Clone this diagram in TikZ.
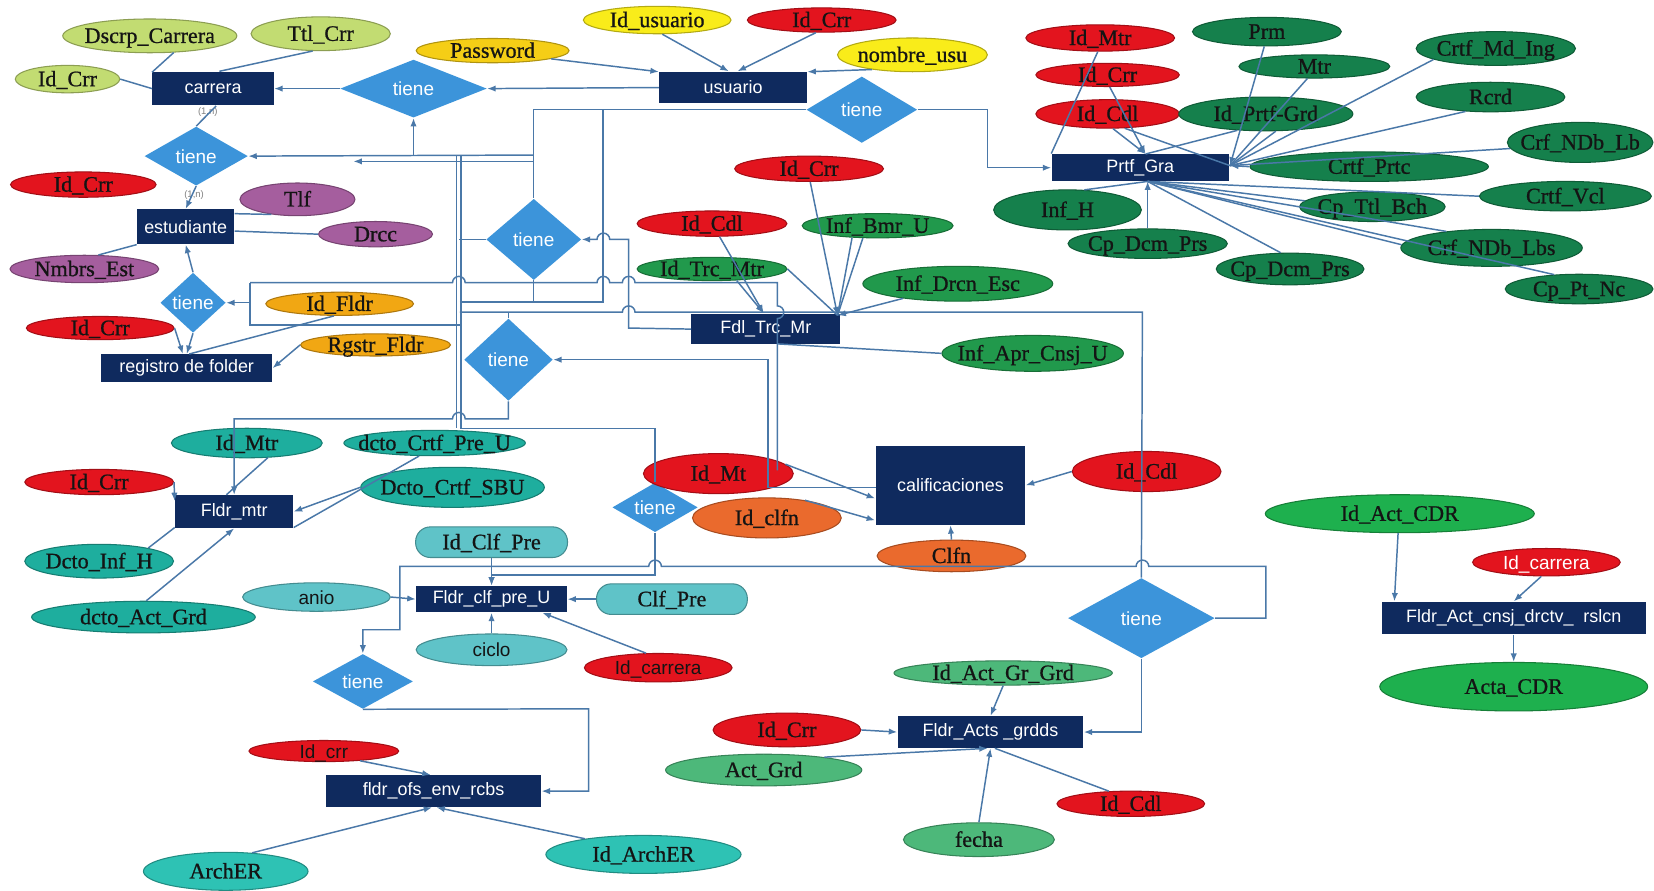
\documentclass[tikz,border=0pt]{standalone}
\usepackage{fontspec}
\setmainfont{Liberation Serif}
\setsansfont{Liberation Sans}
\newfontfamily\attserif{Liberation Serif}[FakeBold=0.8]
\usetikzlibrary{shapes.geometric,arrows.meta}
\definecolor{entc}{HTML}{0F2A5E}
\definecolor{relb}{HTML}{3C94DA}
\definecolor{lnc}{HTML}{4A78A8}
\definecolor{lgr}{HTML}{C2DC72}
\definecolor{yel}{HTML}{F9EC1A}
\definecolor{gld}{HTML}{F5CE16}
\definecolor{cred}{HTML}{E3141E}
\definecolor{dgr}{HTML}{15804C}
\definecolor{mgr}{HTML}{21994C}
\definecolor{pur}{HTML}{A55E9E}
\definecolor{org}{HTML}{F1A713}
\definecolor{teala}{HTML}{1EAE9E}
\definecolor{tealb}{HTML}{2EC2B4}
\definecolor{ltl}{HTML}{5FC3C8}
\definecolor{orr}{HTML}{EA6A2D}
\definecolor{gmd}{HTML}{4DB87A}
\definecolor{bgr}{HTML}{1EB04E}
\newcommand{\ct}[1]{\makebox[0pt]{\raisebox{-0.7ex}[0pt][0pt]{#1}}}
\newcommand{\attfont}{\attserif\fontsize{10.5}{12}\selectfont}
\tikzset{
  sz/.style 2 args={minimum width=#1*0.5pt, minimum height=#2*0.5pt},
  ent/.style={rectangle, fill=entc, text=white, inner sep=0pt, font=\sffamily\fontsize{8.5}{10}\selectfont},
  rel/.style={diamond, fill=relb, text=white, inner sep=0pt, font=\sffamily\fontsize{9}{10}\selectfont},
  att/.style={ellipse, fill=#1, draw=#1!72!black, line width=0.5pt, inner sep=0pt, text=black!92, font=\attfont},
  attr/.style={rectangle, rounded corners=7pt, fill=#1, draw=#1!72!black, line width=0.5pt, inner sep=0pt, text=black!92, font=\attfont},
  sansatt/.style={font=\sffamily\fontsize{9}{10}\selectfont},
  ln/.style={draw=lnc, line width=0.7pt},
  arr/.style={-{Latex[length=4pt,width=3pt]}},
  nlab/.style={text=gray, font=\sffamily\fontsize{4.5}{5}\selectfont, inner sep=0pt}
}
\begin{document}
\begin{tikzpicture}[x=0.5pt,y=-0.5pt]
\path[use as bounding box, fill=white] (0,0) rectangle (1568,844);

% ---------- entities ----------
\node[ent, sz={115}{32}] (carrera) at (202,84) {carrera};
\node[ent, sz={140}{30}] (usuario) at (695,83) {usuario};
\node[ent, sz={168}{26}] (prtf) at (1081,159) {Prtf\_Gra};
\node[ent, sz={92}{33}] (estudiante) at (176,215) {estudiante};
\node[ent, sz={162}{26}] (registro) at (177,349) {registro de folder};
\node[ent, sz={141}{29}] (fdl) at (726,312) {Fdl\_Trc\_Mr};
\node[ent, sz={142}{75}] (calif) at (901,460) {calificaciones};
\node[ent, sz={112}{31}] (fldrmtr) at (222,485) {Fldr\_mtr};
\node[ent, sz={143}{25}] (fldrclf) at (466,568) {Fldr\_clf\_pre\_U};
\node[ent, sz={204}{30}] (fldrofs) at (411,750) {fldr\_ofs\_env\_rcbs};
\node[ent, sz={176}{30}] (fldracts) at (939,694) {Fldr\_Acts \_grdds};
\node[ent, sz={250}{31}] (fldract) at (1435,586) {Fldr\_Act\_cnsj\_drctv\_\ \ rslcn};

% ---------- relationships ----------
\node[rel, sz={139}{55}] (tA) at (392,84) {\ct{tiene}};
\node[rel, sz={105}{63}] (tB) at (817,104) {\ct{tiene}};
\node[rel, sz={98}{56}] (tC) at (186,148) {\ct{tiene}};
\node[rel, sz={62}{57}] (tD) at (183,287) {\ct{tiene}};
\node[rel, sz={90}{77}] (tE) at (506,227) {\ct{tiene}};
\node[rel, sz={84}{78}] (tF) at (482,341) {\ct{tiene}};
\node[rel, sz={81}{47}] (tG) at (621,481) {\ct{tiene}};
\node[rel, sz={95}{52}] (tH) at (344,646) {\ct{tiene}};
\node[rel, sz={139}{76}] (tI) at (1082,586) {\ct{tiene}};

% ---------- attributes ----------
\node[att=lgr, sz={165}{32}] (dscrp) at (142,34) {\ct{Dscrp\_Carrera}};
\node[att=lgr, sz={132}{32}] (ttl) at (304,32) {\ct{Ttl\_Crr}};
\node[att=lgr, sz={99}{26}] (idcrrG) at (64,75) {\ct{Id\_Crr}};
\node[att=gld, sz={145}{23}] (password) at (467,48) {\ct{Password}};
\node[att=yel, sz={140}{26}] (idusu) at (623,19) {\ct{Id\_usuario}};
\node[att=cred, sz={141}{23}] (idcrrU) at (779,19) {\ct{Id\_Crr}};
\node[att=yel, sz={142}{32}] (nombre) at (865,52) {\ct{nombre\_usu}};

\node[att=cred, sz={141}{25}] (pmtr) at (1043,36) {\ct{Id\_Mtr}};
\node[att=cred, sz={136}{22}] (pcrr) at (1050,71) {\ct{Id\_Crr}};
\node[att=cred, sz={136}{27}] (pcdl) at (1050,108) {\ct{Id\_Cdl}};
\node[att=dgr, sz={141}{27}] (prm) at (1201,30) {\ct{Prm}};
\node[att=dgr, sz={143}{22}] (mtr) at (1246,63) {\ct{Mtr}};
\node[att=dgr, sz={165}{32}] (idprtf) at (1200,108) {\ct{Id\_Prtf-Grd}};
\node[att=dgr, sz={151}{32}] (crtfmd) at (1418,46) {\ct{Crtf\_Md\_Ing}};
\node[att=dgr, sz={141}{28}] (rcrd) at (1413,92) {\ct{Rcrd}};
\node[att=dgr, sz={138}{38}] (ndblb) at (1498,135) {\ct{Crf\_NDb\_Lb}};
\node[att=dgr, sz={226}{28}] (prtc) at (1298,158) {\ct{Crtf\_Prtc}};
\node[att=dgr, sz={163}{28}] (vcl) at (1484,186) {\ct{Crtf\_Vcl}};
\node[att=dgr, sz={140}{38}] (infh) at (1012,199) {\ct{Inf\_H}};
\node[att=dgr, sz={138}{28}] (ttlbch) at (1301,196) {\ct{Cp\_Ttl\_Bch}};
\node[att=dgr, sz={151}{28}] (dcm1) at (1088,231) {\ct{Cp\_Dcm\_Prs}};
\node[att=dgr, sz={140}{30}] (dcm2) at (1223,255) {\ct{Cp\_Dcm\_Prs}};
\node[att=dgr, sz={172}{35}] (ndblbs) at (1414,235) {\ct{Crf\_NDb\_Lbs}};
\node[att=dgr, sz={140}{28}] (ptnc) at (1497,274) {\ct{Cp\_Pt\_Nc}};

\node[att=cred, sz={138}{24}] (ecrr) at (79,175) {\ct{Id\_Crr}};
\node[att=pur, sz={109}{31}] (tlf) at (282,189) {\ct{Tlf}};
\node[att=pur, sz={108}{24}] (drcc) at (356,222) {\ct{Drcc}};
\node[att=pur, sz={141}{26}] (nmbrs) at (80,255) {\ct{Nmbrs\_Est}};
\node[att=org, sz={140}{22}] (idfldr) at (322,288) {\ct{Id\_Fldr}};
\node[att=cred, sz={140}{22}] (rcrr) at (95,311) {\ct{Id\_Crr}};
\node[att=org, sz={142}{21}] (rgstr) at (356,327) {\ct{Rgstr\_Fldr}};

\node[att=cred, sz={141}{24}] (fcrr) at (767,160) {\ct{Id\_Crr}};
\node[att=cred, sz={142}{24}] (fcdl) at (675,212) {\ct{Id\_Cdl}};
\node[att=mgr, sz={143}{23}] (bmr) at (832,214) {\ct{Inf\_Bmr\_U}};
\node[att=mgr, sz={142}{22}] (trc) at (675,255) {\ct{Id\_Trc\_Mtr}};
\node[att=mgr, sz={180}{33}] (drcn) at (908,269) {\ct{Inf\_Drcn\_Esc}};
\node[att=mgr, sz={172}{34}] (apr) at (979,335) {\ct{Inf\_Apr\_Cnsj\_U}};

\node[att=cred, sz={142}{38}] (idmt) at (681,449) {\ct{Id\_Mt}};
\node[att=orr, sz={141}{38}] (idclfn) at (727,491) {\ct{Id\_clfn}};
\node[att=orr, sz={141}{30}] (clfn) at (902,527) {\ct{Clfn}};
\node[att=cred, sz={141}{38}] (ccdl) at (1087,447) {\ct{Id\_Cdl}};

\node[att=teala, sz={143}{28}] (midmtr) at (234,420) {\ct{Id\_Mtr}};
\node[att=teala, sz={172}{24}] (dctopre) at (412,420) {\ct{dcto\_Crtf\_Pre\_U}};
\node[att=cred, sz={141}{24}] (mcrr) at (94,457) {\ct{Id\_Crr}};
\node[att=teala, sz={174}{38}] (sbu) at (429,462) {\ct{Dcto\_Crtf\_SBU}};
\node[att=teala, sz={141}{32}] (dctoinf) at (94,532) {\ct{Dcto\_Inf\_H}};
\node[att=teala, sz={212}{30}] (dctoact) at (136,585) {\ct{dcto\_Act\_Grd}};

\node[attr=ltl, sz={144}{29}] (idclfpre) at (466,514) {\ct{Id\_Clf\_Pre}};
\node[att=ltl, sansatt, sz={140}{27}] (anio) at (300,566) {\ct{anio}};
\node[attr=ltl, sz={143}{29}] (clfpre) at (637,568) {\ct{Clf\_Pre}};
\node[att=ltl, sansatt, sz={143}{30}] (ciclo) at (466,616) {\ct{ciclo}};
\node[att=cred, sansatt, sz={140}{27}] (idcarr1) at (624,633) {\ct{Id\_carrera}};
\node[att=cred, sansatt, sz={142}{20}] (ocrr) at (307,712) {\ct{Id\_crr}};
\node[att=tealb, sz={156}{36}] (archer) at (214,826) {\ct{ArchER}};
\node[att=tealb, sz={185}{36}] (idarcher) at (610,810) {\ct{Id\_ArchER}};

\node[att=gmd, sz={207}{23}] (idactgr) at (951,638) {\ct{Id\_Act\_Gr\_Grd}};
\node[att=cred, sz={140}{32}] (acrr) at (746,692) {\ct{Id\_Crr}};
\node[att=gmd, sz={186}{30}] (actgrd) at (724,730) {\ct{Act\_Grd}};
\node[att=cred, sz={140}{24}] (acdl) at (1072,762) {\ct{Id\_Cdl}};
\node[att=gmd, sz={143}{32}] (fecha) at (928,796) {\ct{fecha}};

\node[att=bgr, sz={255}{36}] (idactcdr) at (1327,487) {\ct{Id\_Act\_CDR}};
\node[att=cred, sansatt, text=white, sz={140}{26}] (idcarr2) at (1466,533) {\ct{Id\_carrera}};
\node[att=bgr, sz={254}{46}] (actacdr) at (1435,651) {\ct{Acta\_CDR}};

\node[nlab] (n1) at (197,106) {(1,n)};
\node[nlab] (n2) at (184,185) {(1,n)};

\coordinate (pT) at (1086,146);
\coordinate (pR) at (1166,157);
\coordinate (pB) at (1088,172);
\coordinate (fT) at (724,297);
\coordinate (fR) at (794,299);

% ---------- relationship routing ----------
\draw[ln,arr] (usuario.west) -- (tA.east);
\draw[ln,arr] (tA.west) -- (carrera.east);
\draw[ln,arr] (392,147) -- (tA.south);
\draw[ln,arr] (506,147) -- (tC.east);
\draw[ln,arr] (506,153) -- (335,153);
\draw[ln] (tC.north) -- (carrera.-80);
\draw[ln,arr] (tC.south) -- (estudiante.north);

\draw[ln,arr] (tB.east) -- (936,104) -- (936,159) -- (prtf.west);
\draw[ln] (tB.west) -- (506,104) -- (tE.north);

\draw[ln] (433,147) -- (433,406);
\draw[ln] (437,147) -- (437,406) -- (621,406) -- (tG.north);

\draw[ln] (tE.west) -- (435,227);
\draw[ln] (tE.south) -- (506,286);
\draw[ln, line width=1pt] (436,286) -- (572,286) -- (572,104);
\draw[ln,arr] (fdl.west) -- (596,311) -- (596,227) -- (578,227) arc[start angle=0,end angle=-180,radius=6] -- (tE.east);

\draw[ln] (237,268) -- (237,308) -- (436,308);
\draw[ln,arr] (237,287) -- (tD.east);
\draw[ln] (237,268) -- (429,268) arc[start angle=180,end angle=360,radius=6]
  -- (566,268) arc[start angle=180,end angle=360,radius=6]
  -- (590,268) arc[start angle=180,end angle=360,radius=6]
  -- (737,268) -- (737,290) arc[start angle=270,end angle=450,radius=6] -- (737,446);

\draw[ln] (tF.north) -- (482,296);
\draw[ln] (436,296) -- (590,296) arc[start angle=180,end angle=360,radius=6] -- (1083,296) -- (tI.north);
\draw[ln,arr] (830,462) -- (728,462) -- (728,341) -- (tF.east);
\draw[ln,arr] (tF.south) -- (482,397) -- (441,397) arc[start angle=0,end angle=-180,radius=6] -- (222,397) -- (fldrmtr.north);

\draw[ln,arr] (tG.south) -- (621,545) -- (466,545) -- (fldrclf.north);
\draw[ln,arr] (tI.east) -- (1200,586) -- (1200,537) -- (1089,537) arc[start angle=0,end angle=-180,radius=6]
  -- (627,537) arc[start angle=0,end angle=-180,radius=6] -- (379,537) -- (379,597) -- (344,597) -- (tH.north);
\draw[ln,arr] (tH.south) -- (558,672) -- (558,750) -- (fldrofs.east);
\draw[ln,arr] (tI.south) -- (1082,694) -- (fldracts.east);

% ---------- attribute links ----------
\draw[ln] (dscrp.-35) -- (carrera.165);
\draw[ln] (ttl.-115) -- (carrera.70);
\draw[ln] (idcrrG.east) -- (carrera.west);
\draw[ln,arr] (password.-8) -- (usuario.168);
\draw[ln,arr] (idusu.-70) -- (usuario.105);
\draw[ln,arr] (idcrrU.-115) -- (usuario.75);
\draw[ln,arr] (nombre.200) -- (usuario.12);

\draw[ln] (pmtr.-100) -- (prtf.north west);
\draw[ln,arr] (pcrr.-80) -- (pT);
\draw[ln,arr] (pcdl.-70) -- (pT);
\draw[ln] (pcdl.-40) -- (pR);
\draw[ln,arr] (prm.-100) -- (pR);
\draw[ln] (mtr.-120) -- (pR);
\draw[ln] (idprtf.-150) -- (pT);
\draw[ln] (idprtf.-60) -- (pR);
\draw[ln] (crtfmd.190) -- (pR);
\draw[ln] (rcrd.-150) -- (pR);
\draw[ln] (ndblb.185) -- (pR);
\draw[ln,arr] (prtc.west) -- (pR);
\draw[ln] (vcl.west) -- (pB);
\draw[ln] (ttlbch.175) -- (pB);
\draw[ln] (ndblbs.160) -- (pB);
\draw[ln] (ndblbs.178) -- (pB);
\draw[ln] (ptnc.150) -- (pB);
\draw[ln] (dcm2.120) -- (pB);
\draw[ln,arr] (dcm1.north) -- (pB);
\draw[ln] (infh.50) -- (pB);

\draw[ln,arr] (fcdl.-60) -- (fT);
\draw[ln,arr] (trc.-25) -- (fT);
\draw[ln] (trc.east) -- (fR);
\draw[ln,arr] (fcrr.-85) -- (fR);
\draw[ln] (bmr.-155) -- (fR);
\draw[ln] (bmr.-140) -- (fR);
\draw[ln,arr] (drcn.195) -- (fR);
\draw[ln] (apr.west) -- (737,326);

\draw[ln] (tlf.-150) -- (estudiante.15);
\draw[ln] (drcc.west) -- (estudiante.-5);
\draw[ln] (nmbrs.45) -- (estudiante.-160);
\draw[ln,arr] (tD.north) -- (estudiante.south);
\draw[ln,arr] (tD.south) -- (registro.north);
\draw[ln,arr] (rcrr.east) -- (registro.105);
\draw[ln] (idfldr.-115) -- (registro.80);
\draw[ln,arr] (rgstr.west) -- (registro.east);

\draw[ln,arr] (idmt.8) -- (calif.190);
\draw[ln,arr] (idclfn.25) -- (calif.205);
\draw[ln,arr] (clfn.north) -- (calif.south);
\draw[ln,arr] (ccdl.west) -- (calif.east);

\draw[ln] (midmtr.-35) -- (fldrmtr.115);
\draw[ln,arr] (mcrr.east) -- (fldrmtr.170);
\draw[ln] (dctoinf.15) -- (fldrmtr.195);
\draw[ln,arr] (sbu.west) -- (fldrmtr.east);
\draw[ln] (dctopre.-140) -- (fldrmtr.-15);
\draw[ln,arr] (dctoact.80) -- (fldrmtr.south);

\draw[ln,arr] (anio.east) -- (fldrclf.west);
\draw[ln,arr] (idclfpre.south) -- (fldrclf.north);
\draw[ln,arr] (clfpre.west) -- (fldrclf.east);
\draw[ln,arr] (ciclo.north) -- (fldrclf.south);
\draw[ln,arr] (idcarr1.130) -- (fldrclf.-15);

\draw[ln,arr] (ocrr.-15) -- (fldrofs.100);
\draw[ln,arr] (archer.35) -- (fldrofs.-95);
\draw[ln,arr] (idarcher.165) -- (fldrofs.-80);

\draw[ln,arr] (idactgr.south) -- (fldracts.north);
\draw[ln,arr] (acrr.east) -- (fldracts.west);
\draw[ln,arr] (actgrd.12) -- (fldracts.-100);
\draw[ln,arr] (fecha.north) -- (fldracts.south);
\draw[ln] (acdl.150) -- (fldracts.-75);

\draw[ln,arr] (idactcdr.-95) -- (fldract.172);
\draw[ln,arr] (idcarr2.-110) -- (fldract.north);
\draw[ln,arr] (fldract.south) -- (actacdr.north);
\end{tikzpicture}
\end{document}
